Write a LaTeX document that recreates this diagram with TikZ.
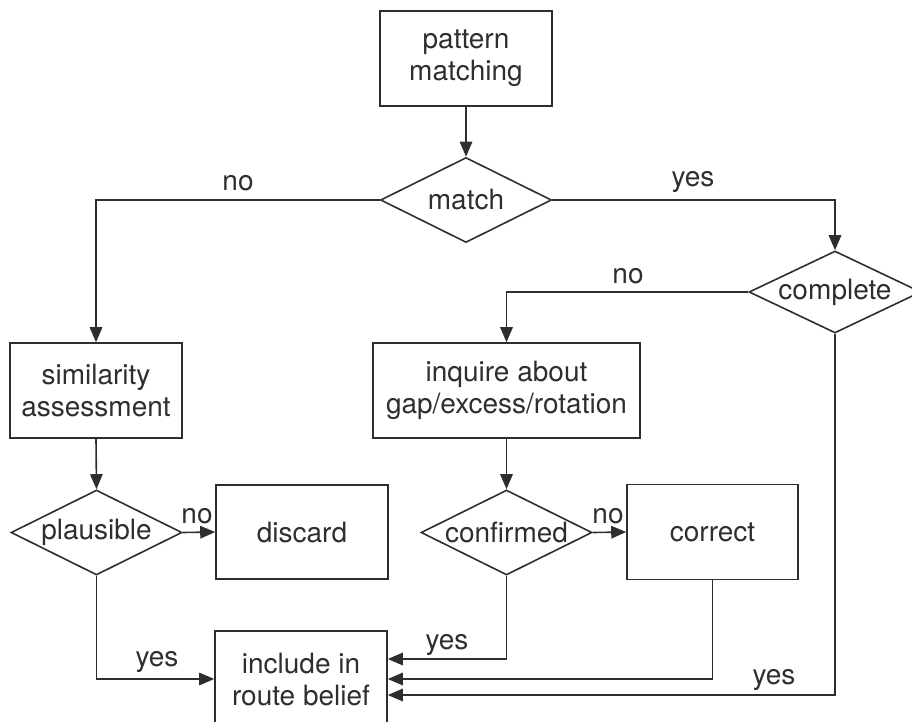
\documentclass[tikz,border=0pt]{standalone}
\usepackage{fontspec}
\setmainfont{TeX Gyre Heros}
\usetikzlibrary{shapes.geometric,arrows.meta}
\definecolor{ink}{gray}{0.18}
\tikzset{
  every node/.style={text=ink, font=\fontsize{28}{32}\selectfont},
  procbox/.style={draw=ink, line width=1.6pt, rectangle, inner sep=0pt, align=center},
  decision/.style={draw=ink, line width=1.6pt, diamond, inner sep=0pt, aspect=1,
                   minimum width=171pt, minimum height=85pt},
  flow/.style={draw=ink, line width=1.6pt, -{Triangle[length=15pt,width=12.5pt]}},
  branch/.style={anchor=base, inner sep=0pt},
}
\newcommand{\dtext}[1]{\makebox[0pt]{#1}}
\begin{document}
\begin{tikzpicture}[x=1pt, y=-1pt]
\useasboundingbox (0,0) rectangle (912,722);

% process boxes
\node[procbox, minimum width=172pt, minimum height=95pt] (pm) at (466,58.5) {pattern\\matching};
\node[procbox, minimum width=172pt, minimum height=95pt] (sim) at (96,390.5) {similarity\\assessment};
\node[procbox, minimum width=267pt, minimum height=95pt] (inq) at (506.5,390.5) {inquire about\\gap/excess/rotation};
\node[procbox, minimum width=172pt, minimum height=94pt] (dis) at (302,532) {discard};
\node[procbox, minimum width=171pt, minimum height=95pt] (cor) at (712.5,532) {correct};
\node[procbox, minimum width=172pt, minimum height=96pt] (inc) at (301,679) {include in\\route belief};

% decisions
\node[decision] (mat) at (466,200) {\dtext{match}};
\node[decision, minimum width=172pt, minimum height=82pt] (com) at (835,292) {\dtext{complete}};
\node[decision] (pla) at (96.5,532.5) {\dtext{plausible}};
\node[decision] (con) at (506.5,532.5) {\dtext{confirmed}};

% connectors
\draw[flow] (pm.south) -- (mat.north);
\draw[flow] (mat.west) -| (sim.north);
\draw[flow] (mat.east) -| (com.north);
\draw[flow] (com.west) -| (inq.north);
\draw[flow] (sim.south) -- (pla.north);
\draw[flow] (pla.east) -- (dis.west);
\draw[flow] (inq.south) -- (con.north);
\draw[flow] (con.east) -- (cor.west);
\draw[flow] (pla.south) |- (inc.west);
\draw[flow] (con.south) |- ([yshift=20pt]inc.east);
\draw[flow] (cor.south) |- (inc.east);
\draw[flow] (com.south) |- ([yshift=-16pt]inc.east);

% branch labels
\node[branch] (lno1) at (238,190) {no};
\node[branch] (lyes1) at (693,186) {yes};
\node[branch] (lno2) at (628,283) {no};
\node[branch] (lno3) at (197,523) {no};
\node[branch] (lno4) at (608,523) {no};
\node[branch] (lyes2) at (157,666) {yes};
\node[branch] (lyes3) at (447,649) {yes};
\node[branch] (lyes4) at (774,684) {yes};
\end{tikzpicture}
\end{document}
